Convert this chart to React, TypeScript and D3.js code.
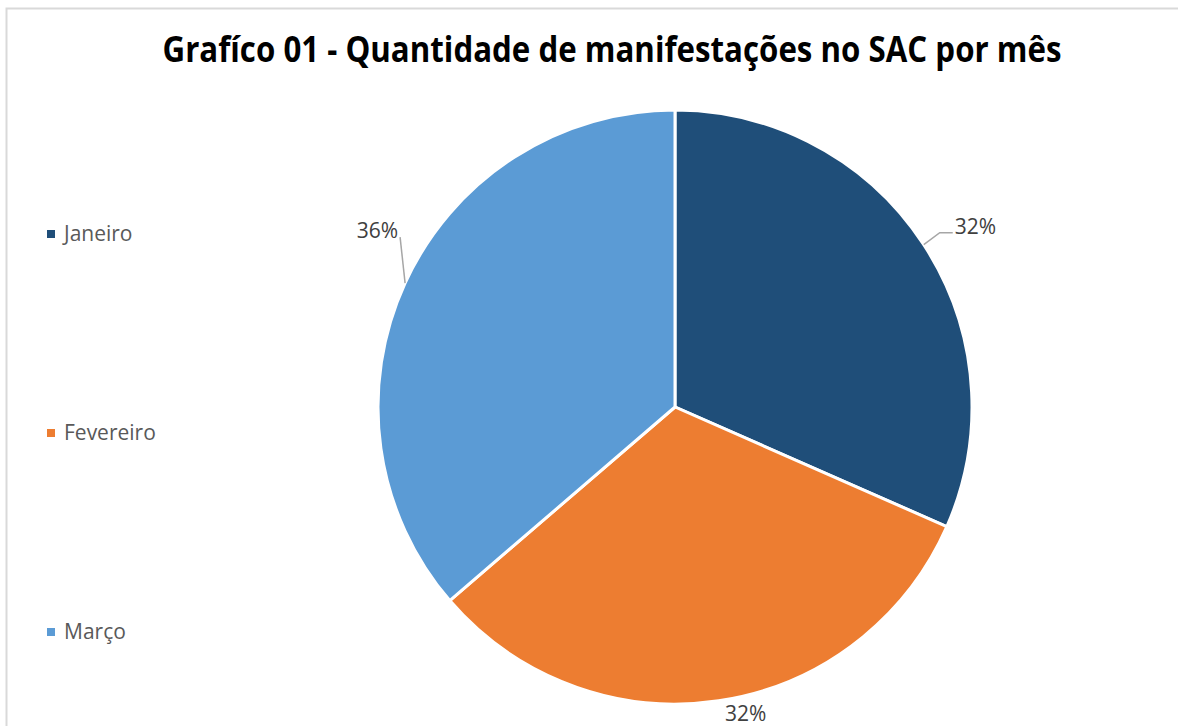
import React from "react";
import * as d3 from "d3";

const categories = ["Janeiro", "Fevereiro", "Março"];
const values = [31.6, 32.1, 36.3];
const colors = ["#1f4e79", "#ed7d31", "#5b9bd5"];
const title = "Grafíco 01 - Quantidade de manifestações no SAC por mês";

const W = 1178;
const H = 726;
const cx = 675;
const cy = 407;
const R = 297;

export default function App() {
  const pie = d3.pie<number>().sort(null).value((d) => d);
  const arcs = pie(values);
  const arc = d3.arc<d3.PieArcDatum<number>>().innerRadius(0).outerRadius(R);
  const total = d3.sum(values);
  const fmt = (v: number) => `${Math.round((v / total) * 100)}%`;

  const edge = (a: d3.PieArcDatum<number>) => {
    const m = (a.startAngle + a.endAngle) / 2;
    return [Math.sin(m) * R, -Math.cos(m) * R];
  };

  const labelFont = "'Open Sans', sans-serif";
  const lfs = 21;

  return (
    <svg
      width={W}
      height={H}
      style={{ position: "fixed", left: 0, top: 0, background: "#fff" }}
    >
      <rect x={6.5} y={8.5} width={W + 20} height={H + 20} fill="#fff" stroke="#d9d9d9" strokeWidth={2} />
      <text
        x={612}
        y={62}
        textAnchor="middle"
        fontFamily={labelFont}
        fontWeight={700}
        fontSize={35}
        fill="#000"
        textLength={899}
        lengthAdjust="spacingAndGlyphs"
      >
        {title}
      </text>
      <g transform={`translate(${cx},${cy})`}>
        {arcs.map((a, i) => (
          <path key={i} d={arc(a) || ""} fill={colors[i]} stroke="#fff" strokeWidth={3} strokeLinejoin="miter" />
        ))}
        {arcs.map((a, i) => {
          const [ex, ey] = edge(a);
          const txt = fmt(values[i]);
          if (i === 0) {
            return (
              <g key={"l" + i}>
                <polyline
                  points={`${ex},${ey} ${ex + 16},${ey - 12} ${ex + 29},${ey - 12}`}
                  fill="none"
                  stroke="#a6a6a6"
                  strokeWidth={1.5}
                />
                <text x={ex + 31} y={ey - 18} dy="0.35em" fontFamily={labelFont} fontSize={lfs} fill="#404040">
                  {txt}
                </text>
              </g>
            );
          }
          if (i === 1) {
            return (
              <text key={"l" + i} x={ex + 27} y={ey + 13} dy="0.35em" textAnchor="middle" fontFamily={labelFont} fontSize={lfs} fill="#404040">
                {txt}
              </text>
            );
          }
          return (
            <g key={"l" + i}>
              <line x1={ex} y1={ey} x2={ex - 5} y2={ey - 46} stroke="#a6a6a6" strokeWidth={1.5} />
              <text x={ex - 7} y={ey - 52} dy="0.35em" textAnchor="end" fontFamily={labelFont} fontSize={lfs} fill="#404040">
                {txt}
              </text>
            </g>
          );
        })}
      </g>
      {categories.map((c, i) => {
        const y = 234 + i * 199;
        return (
          <g key={c}>
            <rect x={47} y={y - 4} width={8} height={8} fill={colors[i]} />
            <text x={64} y={y} dy="0.35em" fontFamily={labelFont} fontSize={lfs} fill="#595959">
              {c}
            </text>
          </g>
        );
      })}
    </svg>
  );
}
